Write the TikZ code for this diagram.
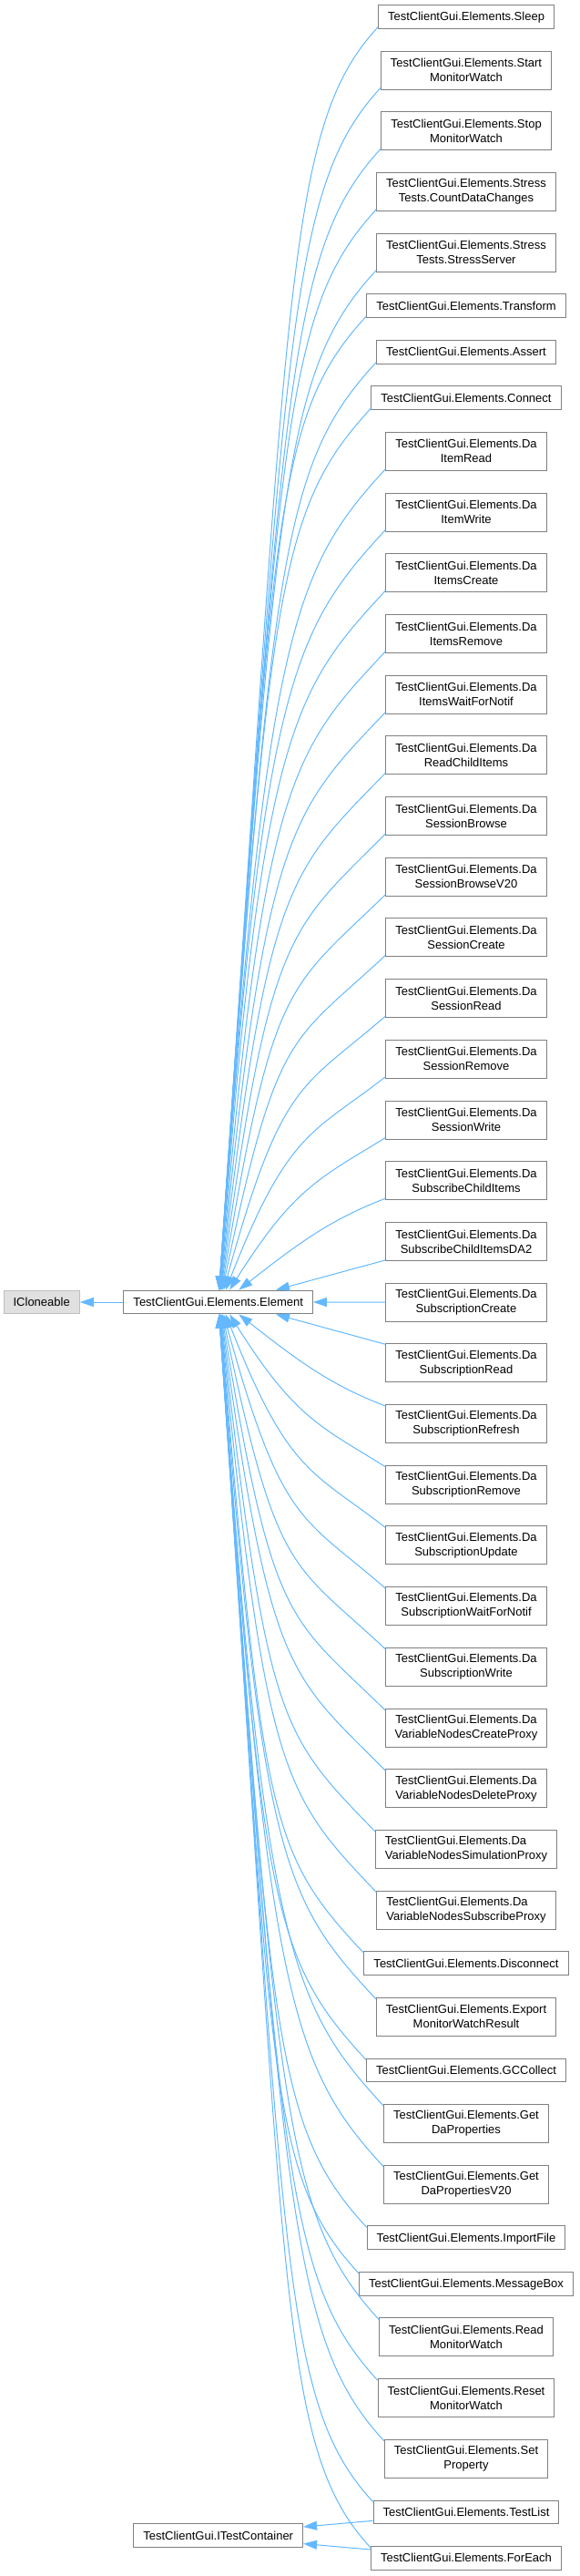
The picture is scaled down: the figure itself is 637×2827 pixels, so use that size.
\documentclass[tikz,border=0pt]{standalone}
\usepackage{fontspec}
\setmainfont{Liberation Sans}
\usetikzlibrary{arrows.meta,positioning,calc}
\definecolor{edgeblue}{HTML}{63B8FF}
\definecolor{boxline}{HTML}{808080}
\definecolor{extfill}{HTML}{E0E0E0}
\definecolor{extline}{HTML}{BFBFBF}
\tikzset{
  cls/.style={draw=boxline, fill=white, line width=1pt, inner xsep=10.5pt, inner ysep=0pt,
    font=\fontsize{13}{16}\selectfont, align=center},
  one/.style={cls, minimum height=25.8pt, text height=10.5pt, text depth=1.9pt},
  two/.style={cls, minimum height=42pt},
  ext/.style={one, fill=extfill, draw=extline},
  inh/.style={draw=edgeblue, line width=1pt, -{Triangle[length=15pt,width=10pt]}},
}
% edge from a child above the Element node
\newcommand\upedge[2]{%
  \draw[inh] let \p1=([yshift=2pt]#1.south west), \p2=(E.north),
    \n1={240+63/((#2)^1.5)},
    \n2={\y1-(\y2)},
    \n3={\x1-\n1*1pt},
    \n4={min(86,atan((\n2/120)^1.4))},
    \n5={0.55*\n4},
    \n6={veclen(\n2,\n3)},
    \n7={min(150,0.35*\n6)},
    \n8={0.8*\n2}
  in (\p1) .. controls ({\x1-\n7*cos(\n5)*1pt},{\y1-\n7*sin(\n5)*1pt})
     and ({(\n1+\n8*cos(\n4))*1pt},{\y2+\n8*sin(\n4)*1pt}) .. ({\n1*1pt},{\y2});
}
% edge from a child below the Element node
\newcommand\downedge[2]{%
  \draw[inh] let \p1=([yshift=-2pt]#1.north west), \p2=(E.south),
    \n1={240+63/((#2)^1.5)},
    \n2={\y2-(\y1)},
    \n3={\x1-\n1*1pt},
    \n4={min(86,atan((\n2/120)^1.4))},
    \n5={0.55*\n4},
    \n6={veclen(\n2,\n3)},
    \n7={min(150,0.35*\n6)},
    \n8={0.8*\n2}
  in (\p1) .. controls ({\x1-\n7*cos(\n5)*1pt},{\y1+\n7*sin(\n5)*1pt})
     and ({(\n1+\n8*cos(\n4))*1pt},{\y2-\n8*sin(\n4)*1pt}) .. ({\n1*1pt},{\y2});
}
\begin{document}
\begin{tikzpicture}[x=1pt,y=1pt]
\useasboundingbox (0,0) rectangle (637,-2827);
% right column
\node[one] (n1) at (512,-18.4) {TestClientGui.Elements.Sleep};
\node[two, below=23.7pt of n1] (n2) {TestClientGui.Elements.Start\\MonitorWatch};
\node[two, below=23.7pt of n2] (n3) {TestClientGui.Elements.Stop\\MonitorWatch};
\node[two, below=23.7pt of n3] (n4) {TestClientGui.Elements.Stress\\Tests.CountDataChanges};
\node[two, below=23.7pt of n4] (n5) {TestClientGui.Elements.Stress\\Tests.StressServer};
\node[one, below=23.7pt of n5] (n6) {TestClientGui.Elements.Transform};
\node[one, below=23.7pt of n6] (n7) {TestClientGui.Elements.Assert};
\node[one, below=23.7pt of n7] (n8) {TestClientGui.Elements.Connect};
\node[two, below=23.7pt of n8] (n9) {TestClientGui.Elements.Da\\ItemRead};
\node[two, below=23.7pt of n9] (n10) {TestClientGui.Elements.Da\\ItemWrite};
\node[two, below=23.7pt of n10] (n11) {TestClientGui.Elements.Da\\ItemsCreate};
\node[two, below=23.7pt of n11] (n12) {TestClientGui.Elements.Da\\ItemsRemove};
\node[two, below=23.7pt of n12] (n13) {TestClientGui.Elements.Da\\ItemsWaitForNotif};
\node[two, below=23.7pt of n13] (n14) {TestClientGui.Elements.Da\\ReadChildItems};
\node[two, below=23.7pt of n14] (n15) {TestClientGui.Elements.Da\\SessionBrowse};
\node[two, below=23.7pt of n15] (n16) {TestClientGui.Elements.Da\\SessionBrowseV20};
\node[two, below=23.7pt of n16] (n17) {TestClientGui.Elements.Da\\SessionCreate};
\node[two, below=23.7pt of n17] (n18) {TestClientGui.Elements.Da\\SessionRead};
\node[two, below=23.7pt of n18] (n19) {TestClientGui.Elements.Da\\SessionRemove};
\node[two, below=23.7pt of n19] (n20) {TestClientGui.Elements.Da\\SessionWrite};
\node[two, below=23.7pt of n20] (n21) {TestClientGui.Elements.Da\\SubscribeChildItems};
\node[two, below=23.7pt of n21] (n22) {TestClientGui.Elements.Da\\SubscribeChildItemsDA2};
\node[two, below=23.7pt of n22] (n23) {TestClientGui.Elements.Da\\SubscriptionCreate};
\node[two, below=23.7pt of n23] (n24) {TestClientGui.Elements.Da\\SubscriptionRead};
\node[two, below=23.7pt of n24] (n25) {TestClientGui.Elements.Da\\SubscriptionRefresh};
\node[two, below=23.7pt of n25] (n26) {TestClientGui.Elements.Da\\SubscriptionRemove};
\node[two, below=23.7pt of n26] (n27) {TestClientGui.Elements.Da\\SubscriptionUpdate};
\node[two, below=23.7pt of n27] (n28) {TestClientGui.Elements.Da\\SubscriptionWaitForNotif};
\node[two, below=23.7pt of n28] (n29) {TestClientGui.Elements.Da\\SubscriptionWrite};
\node[two, below=23.7pt of n29] (n30) {TestClientGui.Elements.Da\\VariableNodesCreateProxy};
\node[two, below=23.7pt of n30] (n31) {TestClientGui.Elements.Da\\VariableNodesDeleteProxy};
\node[two, align=left, below=23.7pt of n31] (n32) {TestClientGui.Elements.Da\\VariableNodesSimulationProxy};
\node[two, align=left, below=23.7pt of n32] (n33) {TestClientGui.Elements.Da\\VariableNodesSubscribeProxy};
\node[one, below=23.7pt of n33] (n34) {TestClientGui.Elements.Disconnect};
\node[two, below=23.7pt of n34] (n35) {TestClientGui.Elements.Export\\MonitorWatchResult};
\node[one, below=23.7pt of n35] (n36) {TestClientGui.Elements.GCCollect};
\node[two, below=23.7pt of n36] (n37) {TestClientGui.Elements.Get\\DaProperties};
\node[two, below=23.7pt of n37] (n38) {TestClientGui.Elements.Get\\DaPropertiesV20};
\node[one, below=23.7pt of n38] (n39) {TestClientGui.Elements.ImportFile};
\node[one, below=23.7pt of n39] (n40) {TestClientGui.Elements.MessageBox};
\node[two, below=23.7pt of n40] (n41) {TestClientGui.Elements.Read\\MonitorWatch};
\node[two, below=23.7pt of n41] (n42) {TestClientGui.Elements.Reset\\MonitorWatch};
\node[two, below=23.7pt of n42] (n43) {TestClientGui.Elements.Set\\Property};
\node[one, below=23.7pt of n43] (n44) {TestClientGui.Elements.TestList};
\node[one, below=23.7pt of n44] (n45) {TestClientGui.Elements.ForEach};
% left column
\node[one] (E) at (239.7,-1429) {TestClientGui.Elements.Element};
\node[ext] (IC) at (45.7,-1429) {ICloneable};
\node[one] (ITC) at (239.7,-2782.7) {TestClientGui.ITestContainer};
% edges
\draw[inh] (E.west) -- (IC.east);
\draw[inh] (n23.west) -- (E.east);
\draw[inh] ([yshift=1pt]n22.south west) -- ([xshift=63.3pt]E.north);
\draw[inh] ([yshift=-1pt]n24.north west) -- ([xshift=63.3pt]E.south);
\foreach \i in {1,...,21} {\pgfmathtruncatemacro\k{23-\i}\upedge{n\i}{\k}}
\foreach \i in {25,...,45} {\pgfmathtruncatemacro\k{\i-23}\downedge{n\i}{\k}}
\draw[inh] ([yshift=4pt]n44.south west) -- ([yshift=-3.7pt]ITC.north east);
\draw[inh] ([yshift=-4pt]n45.north west) -- ([yshift=4.6pt]ITC.south east);
\end{tikzpicture}
\end{document}
